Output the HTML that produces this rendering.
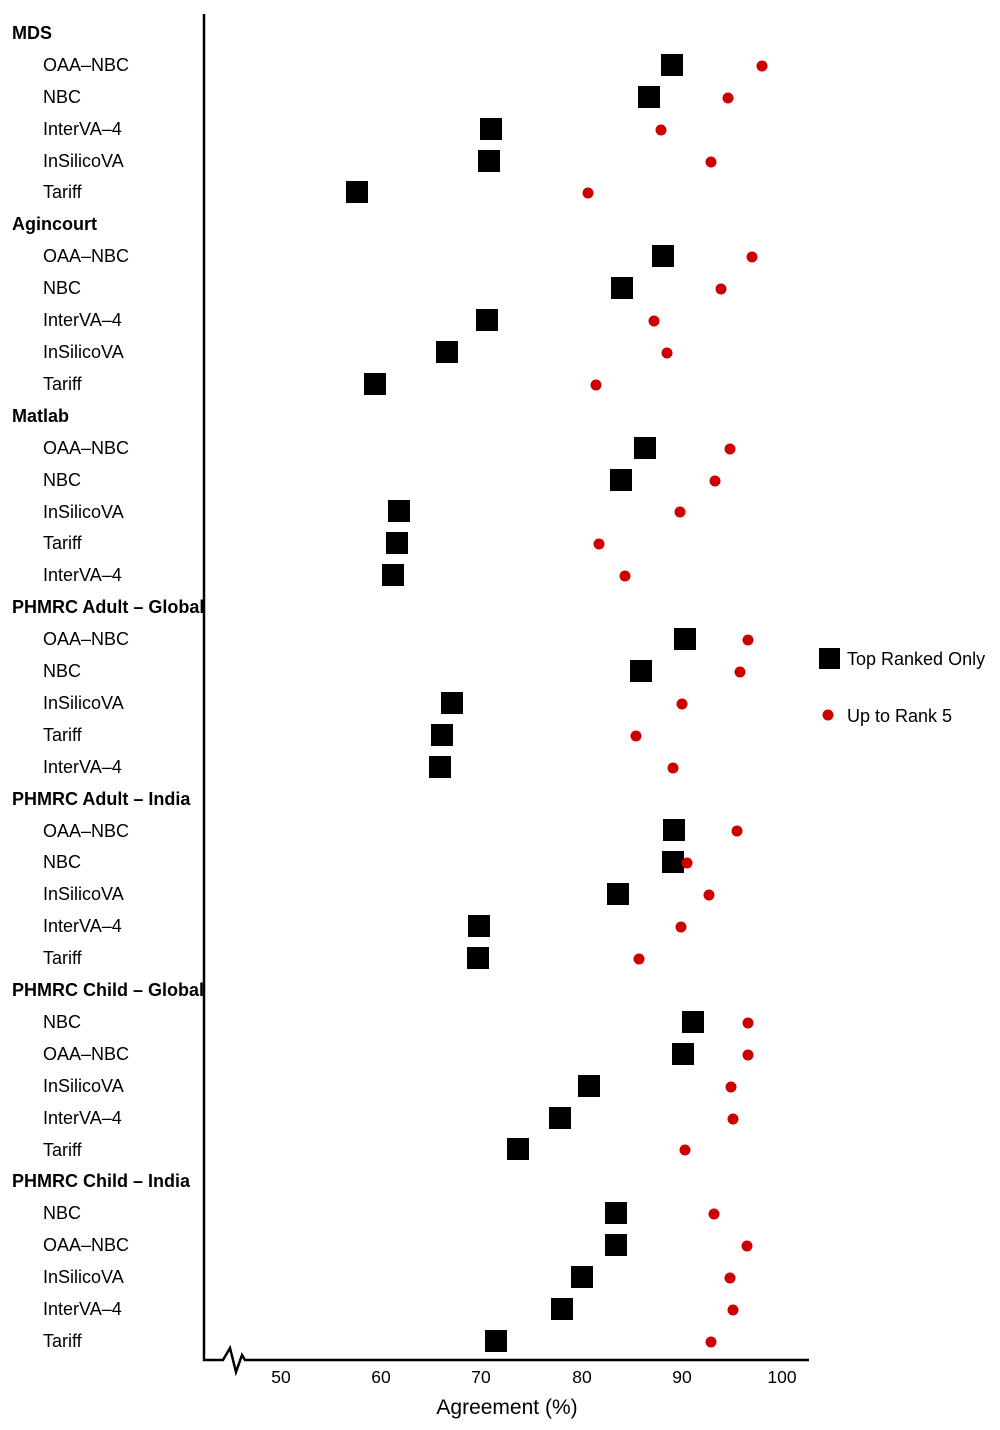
<!DOCTYPE html>
<html><head><meta charset="utf-8"><style>body{margin:0;background:#fff}svg{display:block}text{font-family:"Liberation Sans",Arial,sans-serif;fill:#000}</style></head>
<body>
<svg width="1000" height="1430" viewBox="0 0 1000 1430" xmlns="http://www.w3.org/2000/svg">
<line x1="204" y1="14" x2="204" y2="1361" stroke="#000" stroke-width="2.5"/>
<polyline points="203,1360 223,1360 230,1348 236,1372 242,1355 245,1360 809,1360" fill="none" stroke="#000" stroke-width="2.5"/>
<g font-size="17.5" text-anchor="middle">
<text x="281" y="1383">50</text><text x="381" y="1383">60</text><text x="481" y="1383">70</text><text x="582" y="1383">80</text><text x="682" y="1383">90</text><text x="782" y="1383">100</text>
</g>
<text x="507" y="1414" font-size="21" text-anchor="middle">Agreement (%)</text>
<g font-size="18" font-weight="bold">
<text x="12" y="39">MDS</text>
<text x="12" y="230">Agincourt</text>
<text x="12" y="422">Matlab</text>
<text x="12" y="613">PHMRC Adult – Global</text>
<text x="12" y="805">PHMRC Adult – India</text>
<text x="12" y="996">PHMRC Child – Global</text>
<text x="12" y="1187">PHMRC Child – India</text>
</g>
<g font-size="18">
<text x="43" y="71">OAA–NBC</text><text x="43" y="103">NBC</text><text x="43" y="135">InterVA–4</text><text x="43" y="167">InSilicoVA</text><text x="43" y="198">Tariff</text>
<text x="43" y="262">OAA–NBC</text><text x="43" y="294">NBC</text><text x="43" y="326">InterVA–4</text><text x="43" y="358">InSilicoVA</text><text x="43" y="390">Tariff</text>
<text x="43" y="454">OAA–NBC</text><text x="43" y="486">NBC</text><text x="43" y="518">InSilicoVA</text><text x="43" y="549">Tariff</text><text x="43" y="581">InterVA–4</text>
<text x="43" y="645">OAA–NBC</text><text x="43" y="677">NBC</text><text x="43" y="709">InSilicoVA</text><text x="43" y="741">Tariff</text><text x="43" y="773">InterVA–4</text>
<text x="43" y="837">OAA–NBC</text><text x="43" y="868">NBC</text><text x="43" y="900">InSilicoVA</text><text x="43" y="932">InterVA–4</text><text x="43" y="964">Tariff</text>
<text x="43" y="1028">NBC</text><text x="43" y="1060">OAA–NBC</text><text x="43" y="1092">InSilicoVA</text><text x="43" y="1124">InterVA–4</text><text x="43" y="1156">Tariff</text>
<text x="43" y="1219">NBC</text><text x="43" y="1251">OAA–NBC</text><text x="43" y="1283">InSilicoVA</text><text x="43" y="1315">InterVA–4</text><text x="43" y="1347">Tariff</text>
</g>
<g fill="#000">
<rect x="661" y="54" width="22" height="22"/><rect x="638" y="86" width="22" height="22"/><rect x="480" y="118" width="22" height="22"/><rect x="478" y="150" width="22" height="22"/><rect x="346" y="181" width="22" height="22"/>
<rect x="652" y="245" width="22" height="22"/><rect x="611" y="277" width="22" height="22"/><rect x="476" y="309" width="22" height="22"/><rect x="436" y="341" width="22" height="22"/><rect x="364" y="373" width="22" height="22"/>
<rect x="634" y="437" width="22" height="22"/><rect x="610" y="469" width="22" height="22"/><rect x="388" y="500" width="22" height="22"/><rect x="386" y="532" width="22" height="22"/><rect x="382" y="564" width="22" height="22"/>
<rect x="674" y="628" width="22" height="22"/><rect x="630" y="660" width="22" height="22"/><rect x="441" y="692" width="22" height="22"/><rect x="431" y="724" width="22" height="22"/><rect x="429" y="756" width="22" height="22"/>
<rect x="663" y="819" width="22" height="22"/><rect x="662" y="851" width="22" height="22"/><rect x="607" y="883" width="22" height="22"/><rect x="468" y="915" width="22" height="22"/><rect x="467" y="947" width="22" height="22"/>
<rect x="682" y="1011" width="22" height="22"/><rect x="672" y="1043" width="22" height="22"/><rect x="578" y="1075" width="22" height="22"/><rect x="549" y="1107" width="22" height="22"/><rect x="507" y="1138" width="22" height="22"/>
<rect x="605" y="1202" width="22" height="22"/><rect x="605" y="1234" width="22" height="22"/><rect x="571" y="1266" width="22" height="22"/><rect x="551" y="1298" width="22" height="22"/><rect x="485" y="1330" width="22" height="22"/>
</g>
<g fill="#cc0000">
<circle cx="762" cy="66" r="5.5"/><circle cx="728" cy="98" r="5.5"/><circle cx="661" cy="130" r="5.5"/><circle cx="711" cy="162" r="5.5"/><circle cx="588" cy="193" r="5.5"/>
<circle cx="752" cy="257" r="5.5"/><circle cx="721" cy="289" r="5.5"/><circle cx="654" cy="321" r="5.5"/><circle cx="667" cy="353" r="5.5"/><circle cx="596" cy="385" r="5.5"/>
<circle cx="730" cy="449" r="5.5"/><circle cx="715" cy="481" r="5.5"/><circle cx="680" cy="512" r="5.5"/><circle cx="599" cy="544" r="5.5"/><circle cx="625" cy="576" r="5.5"/>
<circle cx="748" cy="640" r="5.5"/><circle cx="740" cy="672" r="5.5"/><circle cx="682" cy="704" r="5.5"/><circle cx="636" cy="736" r="5.5"/><circle cx="673" cy="768" r="5.5"/>
<circle cx="737" cy="831" r="5.5"/><circle cx="687" cy="863" r="5.5"/><circle cx="709" cy="895" r="5.5"/><circle cx="681" cy="927" r="5.5"/><circle cx="639" cy="959" r="5.5"/>
<circle cx="748" cy="1023" r="5.5"/><circle cx="748" cy="1055" r="5.5"/><circle cx="731" cy="1087" r="5.5"/><circle cx="733" cy="1119" r="5.5"/><circle cx="685" cy="1150" r="5.5"/>
<circle cx="714" cy="1214" r="5.5"/><circle cx="747" cy="1246" r="5.5"/><circle cx="730" cy="1278" r="5.5"/><circle cx="733" cy="1310" r="5.5"/><circle cx="711" cy="1342" r="5.5"/>
</g>
<rect x="819" y="648" width="21" height="21" fill="#000"/>
<text x="847" y="665" font-size="18">Top Ranked Only</text>
<circle cx="828" cy="715" r="5.5" fill="#cc0000"/>
<text x="847" y="722" font-size="18">Up to Rank 5</text>
</svg>
</body></html>
